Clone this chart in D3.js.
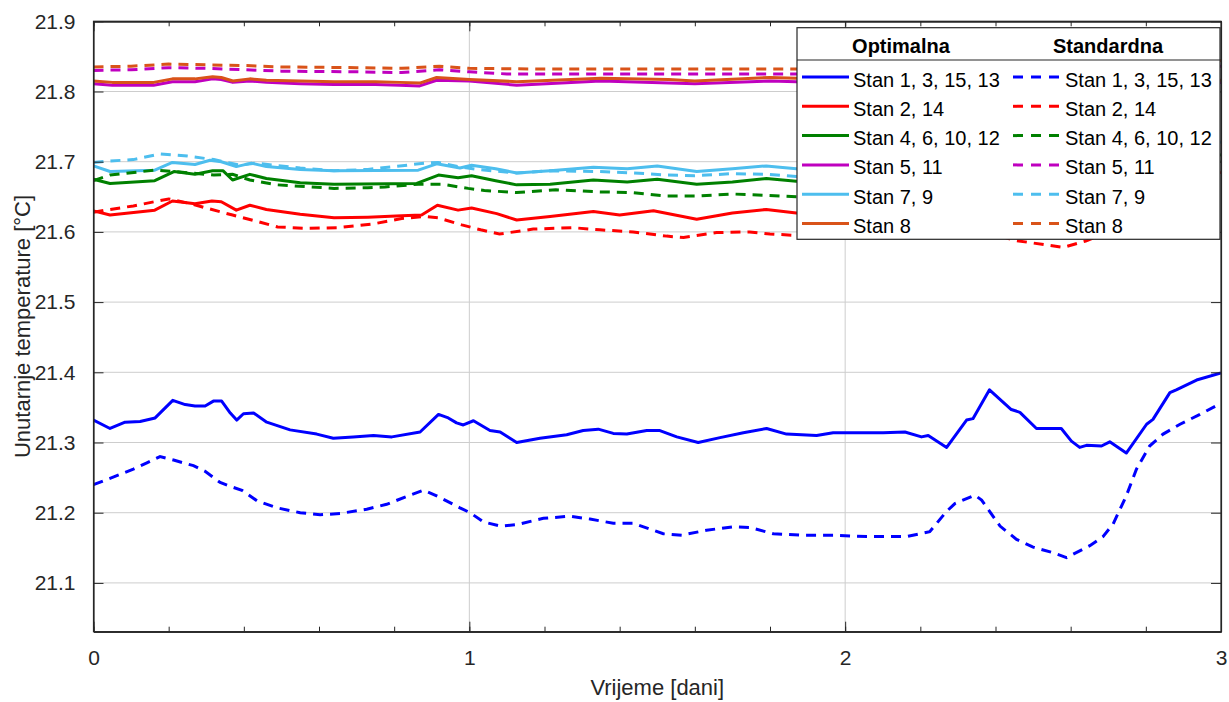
<!DOCTYPE html>
<html><head><meta charset="utf-8">
<script src="https://cdn.jsdelivr.net/npm/d3@7"></script>
<style>body{margin:0;background:#fff;} svg{font-family:"Liberation Sans",Arial,Helvetica,sans-serif;}</style>
</head><body><svg id="c" width="1229" height="702"></svg>
<script>
// ---- data ----
const xTickLabels = [0, 1, 2, 3];
const xMinorTicks = [0, 0.2, 0.4, 0.6, 0.8, 1, 1.2, 1.4, 1.6, 1.8, 2, 2.2, 2.4, 2.6, 2.8, 3];
const yTicks = [21.1, 21.2, 21.3, 21.4, 21.5, 21.6, 21.7, 21.8, 21.9];
const legendNames = ["Stan 1, 3, 15, 13", "Stan 2, 14", "Stan 4, 6, 10, 12", "Stan 5, 11", "Stan 7, 9", "Stan 8"];
const seriesColors = ["#0000ff", "#ff0000", "#008000", "#bf00bf", "#4dbeee", "#d95319"];

// [time in days, temperature]
const stan1Opt = [[0,21.332],[0.044,21.320],[0.084,21.329],[0.124,21.330],[0.164,21.335],[0.211,21.360],[0.244,21.354],[0.27,21.352],[0.297,21.352],[0.319,21.359],[0.341,21.359],[0.364,21.342],[0.381,21.332],[0.399,21.341],[0.426,21.342],[0.461,21.329],[0.523,21.318],[0.594,21.312],[0.638,21.306],[0.691,21.308],[0.745,21.310],[0.794,21.308],[0.869,21.315],[0.918,21.340],[0.944,21.335],[0.966,21.328],[0.984,21.325],[1.011,21.331],[1.055,21.317],[1.082,21.315],[1.126,21.300],[1.188,21.306],[1.259,21.311],[1.303,21.317],[1.343,21.319],[1.383,21.313],[1.419,21.312],[1.472,21.317],[1.507,21.317],[1.552,21.308],[1.609,21.300],[1.667,21.307],[1.729,21.314],[1.791,21.320],[1.844,21.312],[1.924,21.310],[1.968,21.314],[2.101,21.314],[2.159,21.315],[2.203,21.308],[2.221,21.310],[2.270,21.293],[2.323,21.332],[2.340,21.334],[2.384,21.375],[2.442,21.347],[2.465,21.343],[2.509,21.320],[2.575,21.320],[2.602,21.302],[2.624,21.293],[2.642,21.296],[2.682,21.295],[2.704,21.301],[2.748,21.285],[2.802,21.326],[2.819,21.333],[2.864,21.371],[2.881,21.375],[2.935,21.389],[3.0,21.399]];
const stan1Std = [[0,21.240],[0.044,21.249],[0.106,21.262],[0.142,21.271],[0.177,21.280],[0.213,21.275],[0.266,21.267],[0.297,21.259],[0.337,21.243],[0.372,21.236],[0.395,21.232],[0.435,21.217],[0.488,21.207],[0.550,21.200],[0.603,21.197],[0.657,21.199],[0.727,21.205],[0.780,21.212],[0.842,21.225],[0.878,21.232],[0.913,21.224],[0.975,21.207],[1.002,21.200],[1.037,21.187],[1.082,21.181],[1.126,21.183],[1.197,21.192],[1.268,21.195],[1.321,21.191],[1.383,21.185],[1.436,21.185],[1.516,21.170],[1.565,21.168],[1.631,21.175],[1.702,21.180],[1.747,21.179],[1.809,21.170],[1.880,21.168],[1.968,21.168],[2.057,21.166],[2.163,21.166],[2.225,21.173],[2.270,21.202],[2.292,21.213],[2.345,21.225],[2.363,21.218],[2.412,21.181],[2.456,21.162],[2.500,21.151],[2.553,21.143],[2.589,21.136],[2.651,21.153],[2.686,21.166],[2.713,21.184],[2.748,21.224],[2.775,21.262],[2.810,21.295],[2.846,21.312],[2.891,21.326],[2.944,21.340],[3.0,21.356]];
const stan2Opt = [[0,21.630],[0.044,21.624],[0.163,21.631],[0.21,21.644],[0.27,21.640],[0.315,21.644],[0.34,21.643],[0.38,21.631],[0.416,21.638],[0.46,21.632],[0.55,21.625],[0.64,21.620],[0.73,21.621],[0.82,21.623],[0.873,21.624],[0.915,21.638],[0.97,21.631],[1.006,21.634],[1.073,21.626],[1.126,21.617],[1.215,21.622],[1.33,21.629],[1.40,21.624],[1.49,21.630],[1.605,21.618],[1.70,21.627],[1.79,21.632],[1.87,21.627],[2.0,21.628],[2.2,21.628],[2.27,21.622],[2.38,21.640],[2.5,21.630],[2.6,21.620],[2.75,21.618],[2.88,21.660],[3.0,21.685]];
const stan2Std = [[0,21.628],[0.044,21.632],[0.106,21.637],[0.2,21.647],[0.26,21.640],[0.3,21.634],[0.37,21.624],[0.435,21.615],[0.49,21.607],[0.57,21.605],[0.65,21.606],[0.74,21.611],[0.82,21.619],[0.88,21.622],[0.917,21.620],[0.98,21.610],[1.03,21.603],[1.08,21.597],[1.17,21.604],[1.275,21.606],[1.347,21.603],[1.436,21.600],[1.525,21.594],[1.57,21.592],[1.658,21.599],[1.746,21.600],[1.80,21.597],[1.87,21.595],[2.0,21.595],[2.2,21.594],[2.35,21.605],[2.45,21.588],[2.58,21.578],[2.64,21.587],[2.75,21.610],[2.85,21.640],[3.0,21.660]];
const stan4Opt = [[0,21.675],[0.044,21.669],[0.163,21.673],[0.214,21.686],[0.27,21.682],[0.317,21.687],[0.345,21.687],[0.37,21.674],[0.416,21.682],[0.46,21.676],[0.55,21.670],[0.64,21.668],[0.86,21.669],[0.918,21.681],[0.97,21.677],[1.006,21.680],[1.07,21.673],[1.126,21.667],[1.215,21.668],[1.33,21.674],[1.42,21.671],[1.50,21.675],[1.605,21.668],[1.70,21.671],[1.79,21.676],[1.87,21.672],[2.0,21.672],[2.2,21.673],[2.27,21.667],[2.38,21.685],[2.5,21.675],[2.6,21.666],[2.75,21.664],[2.88,21.695],[3.0,21.710]];
const stan4Std = [[0,21.673],[0.044,21.681],[0.163,21.688],[0.214,21.686],[0.32,21.681],[0.37,21.682],[0.416,21.674],[0.49,21.667],[0.64,21.662],[0.73,21.663],[0.776,21.664],[0.864,21.668],[0.926,21.668],[0.997,21.662],[1.04,21.659],[1.126,21.656],[1.23,21.660],[1.347,21.657],[1.436,21.656],[1.525,21.651],[1.6,21.651],[1.70,21.654],[1.79,21.652],[1.87,21.650],[2.2,21.650],[2.35,21.658],[2.6,21.640],[2.75,21.650],[2.88,21.680],[3.0,21.700]];
const stan5Opt = [[0,21.811],[0.05,21.809],[0.16,21.809],[0.21,21.814],[0.27,21.814],[0.317,21.818],[0.34,21.817],[0.371,21.813],[0.416,21.815],[0.46,21.813],[0.55,21.811],[0.64,21.810],[0.75,21.810],[0.815,21.809],[0.868,21.808],[0.913,21.816],[1.0,21.815],[1.126,21.809],[1.35,21.815],[1.6,21.811],[1.8,21.815],[1.87,21.814],[2.2,21.813],[2.6,21.809],[2.8,21.810],[3.0,21.813]];
const stan5Std = [[0,21.830],[0.1,21.831],[0.2,21.834],[0.3,21.833],[0.4,21.831],[0.5,21.829],[0.7,21.828],[0.82,21.827],[0.92,21.831],[1.0,21.828],[1.1,21.825],[1.5,21.825],[1.87,21.825],[2.5,21.825],[2.8,21.828],[3.0,21.836]];
const stan7Opt = [[0,21.694],[0.044,21.686],[0.163,21.688],[0.21,21.699],[0.27,21.696],[0.31,21.702],[0.34,21.700],[0.38,21.693],[0.42,21.698],[0.46,21.693],[0.55,21.689],[0.64,21.687],[0.864,21.688],[0.913,21.697],[0.975,21.691],[1.006,21.695],[1.07,21.690],[1.126,21.684],[1.215,21.687],[1.33,21.692],[1.42,21.690],[1.50,21.694],[1.605,21.686],[1.70,21.690],[1.79,21.694],[1.87,21.690],[2.2,21.690],[2.27,21.686],[2.38,21.700],[2.6,21.684],[2.75,21.683],[2.88,21.712],[3.0,21.728]];
const stan7Std = [[0,21.699],[0.044,21.701],[0.106,21.703],[0.177,21.711],[0.25,21.708],[0.32,21.703],[0.39,21.695],[0.43,21.698],[0.55,21.691],[0.64,21.687],[0.73,21.689],[0.80,21.693],[0.882,21.698],[0.917,21.699],[0.97,21.693],[1.023,21.689],[1.126,21.684],[1.215,21.687],[1.347,21.686],[1.436,21.684],[1.525,21.681],[1.6,21.680],[1.70,21.683],[1.79,21.682],[1.87,21.679],[2.2,21.678],[2.35,21.686],[2.6,21.670],[2.75,21.680],[2.88,21.705],[3.0,21.720]];
const stan8Opt = [[0,21.815],[0.05,21.813],[0.16,21.813],[0.21,21.818],[0.27,21.818],[0.317,21.821],[0.34,21.820],[0.371,21.815],[0.416,21.818],[0.46,21.816],[0.55,21.815],[0.64,21.814],[0.75,21.814],[0.815,21.813],[0.868,21.812],[0.913,21.820],[1.0,21.817],[1.126,21.814],[1.35,21.819],[1.53,21.817],[1.6,21.815],[1.8,21.820],[1.87,21.819],[2.0,21.818],[2.3,21.817],[2.6,21.812],[2.75,21.812],[2.9,21.814],[3.0,21.816]];
const stan8Std = [[0,21.835],[0.1,21.836],[0.2,21.839],[0.3,21.838],[0.4,21.837],[0.5,21.835],[0.7,21.834],[0.82,21.833],[0.92,21.836],[1.0,21.833],[1.2,21.832],[1.5,21.832],[1.87,21.832],[2.5,21.832],[2.8,21.834],[3.0,21.844]];

const optSeries = [stan1Opt, stan2Opt, stan4Opt, stan5Opt, stan7Opt, stan8Opt];
const stdSeries = [stan1Std, stan2Std, stan4Std, stan5Std, stan7Std, stan8Std];

// ---- layout ----
const L = 93.5, R = 1221, T = 21.3, B = 631.7;
const axisCol = "#262626";
const svg = d3.select("#c");
const x = d3.scaleLinear().domain([0, 3]).range([L, R]);
const y = d3.scaleLinear().domain([21.0305, 21.9]).range([B, T]);

// grid
const g = svg.append("g");
g.selectAll(".hg").data(yTicks).join("line")
  .attr("x1", L).attr("x2", R).attr("y1", d => y(d)).attr("y2", d => y(d))
  .attr("stroke", "#cdcdcd").attr("stroke-width", 1);
g.selectAll(".vg").data(xTickLabels.filter(d => d > 0 && d < 3)).join("line")
  .attr("x1", d => x(d)).attr("x2", d => x(d)).attr("y1", T).attr("y2", B)
  .attr("stroke", "#cdcdcd").attr("stroke-width", 1);

// clip
svg.append("clipPath").attr("id", "clip").append("rect")
  .attr("x", L).attr("y", T).attr("width", R - L).attr("height", B - T);

const line = d3.line().x(d => x(d[0])).y(d => y(d[1]));
const lg = svg.append("g").attr("clip-path", "url(#clip)");
optSeries.forEach((s, i) => {
  lg.append("path").datum(s).attr("d", line).attr("fill", "none")
    .attr("stroke", seriesColors[i]).attr("stroke-width", 3).attr("stroke-linejoin", "round");
});
stdSeries.forEach((s, i) => {
  lg.append("path").datum(s).attr("d", line).attr("fill", "none")
    .attr("stroke", seriesColors[i]).attr("stroke-width", 3).attr("stroke-dasharray", "10,7");
});

// axes
const ax = svg.append("g");
const xb = ax.append("g").attr("transform", `translate(0,${B})`)
  .call(d3.axisBottom(x).tickValues(xTickLabels).tickFormat(d3.format("d")).tickSizeInner(-10).tickSizeOuter(0).tickPadding(18));
const xt = ax.append("g").attr("transform", `translate(0,${T})`)
  .call(d3.axisTop(x).tickValues(xTickLabels).tickFormat("").tickSizeInner(-10).tickSizeOuter(0));
const xbm = ax.append("g").attr("transform", `translate(0,${B})`)
  .call(d3.axisBottom(x).tickValues(xMinorTicks).tickFormat("").tickSizeInner(-5).tickSizeOuter(0));
const xtm = ax.append("g").attr("transform", `translate(0,${T})`)
  .call(d3.axisTop(x).tickValues(xMinorTicks).tickFormat("").tickSizeInner(-5).tickSizeOuter(0));
const yl = ax.append("g").attr("transform", `translate(${L},0)`)
  .call(d3.axisLeft(y).tickValues(yTicks).tickFormat(d3.format(".1f")).tickSizeInner(-10).tickSizeOuter(0).tickPadding(18));
const yr = ax.append("g").attr("transform", `translate(${R},0)`)
  .call(d3.axisRight(y).tickValues(yTicks).tickFormat("").tickSizeInner(-10).tickSizeOuter(0));
ax.selectAll(".domain").attr("stroke", axisCol).attr("stroke-width", 1.2);
ax.selectAll(".tick line").attr("stroke", axisCol).attr("stroke-width", 1);
ax.selectAll(".tick text").attr("fill", axisCol).style("font-size", "21px").style("font-family", '"Liberation Sans",Arial,sans-serif');
// full box
svg.append("rect").attr("x", L).attr("y", T).attr("width", R - L).attr("height", B - T)
  .attr("fill", "none").attr("stroke", axisCol).attr("stroke-width", 1.2);

// axis labels
svg.append("text").attr("x", (L + R) / 2).attr("y", 695).attr("text-anchor", "middle")
  .attr("fill", axisCol).style("font-size", "22px").text("Vrijeme [dani]");
svg.append("text").attr("transform", `translate(30,${(T + B) / 2}) rotate(-90)`).attr("text-anchor", "middle")
  .attr("fill", axisCol).style("font-size", "22px").text("Unutarnje temperature [°C]");

// legend
const lx0 = 797, ly0 = 27.7, lx1 = 1220, ly1 = 239.3;
const leg = svg.append("g");
leg.append("rect").attr("x", lx0).attr("y", ly0).attr("width", lx1 - lx0).attr("height", ly1 - ly0)
  .attr("fill", "#fff").attr("stroke", axisCol).attr("stroke-width", 1.2);
leg.append("line").attr("x1", lx0).attr("x2", lx1).attr("y1", 60).attr("y2", 60)
  .attr("stroke", axisCol).attr("stroke-width", 1.2);
leg.append("text").attr("x", 901).attr("y", 52.5).attr("text-anchor", "middle").attr("font-weight", "bold")
  .style("font-size", "20px").attr("fill", "#000").text("Optimalna");
leg.append("text").attr("x", 1108).attr("y", 52.5).attr("text-anchor", "middle").attr("font-weight", "bold")
  .style("font-size", "20px").attr("fill", "#000").text("Standardna");
legendNames.forEach((name, i) => {
  const yy = 77 + 29.3 * i;
  leg.append("line").attr("x1", 802).attr("x2", 849).attr("y1", yy).attr("y2", yy)
    .attr("stroke", seriesColors[i]).attr("stroke-width", 3);
  leg.append("text").attr("x", 853).attr("y", yy + 9.5).style("font-size", "20px").attr("fill", "#000").text(name);
  leg.append("line").attr("x1", 1013).attr("x2", 1061).attr("y1", yy).attr("y2", yy)
    .attr("stroke", seriesColors[i]).attr("stroke-width", 3).attr("stroke-dasharray", "10,8");
  leg.append("text").attr("x", 1065).attr("y", yy + 9.5).style("font-size", "20px").attr("fill", "#000").text(name);
});
</script></body></html>
